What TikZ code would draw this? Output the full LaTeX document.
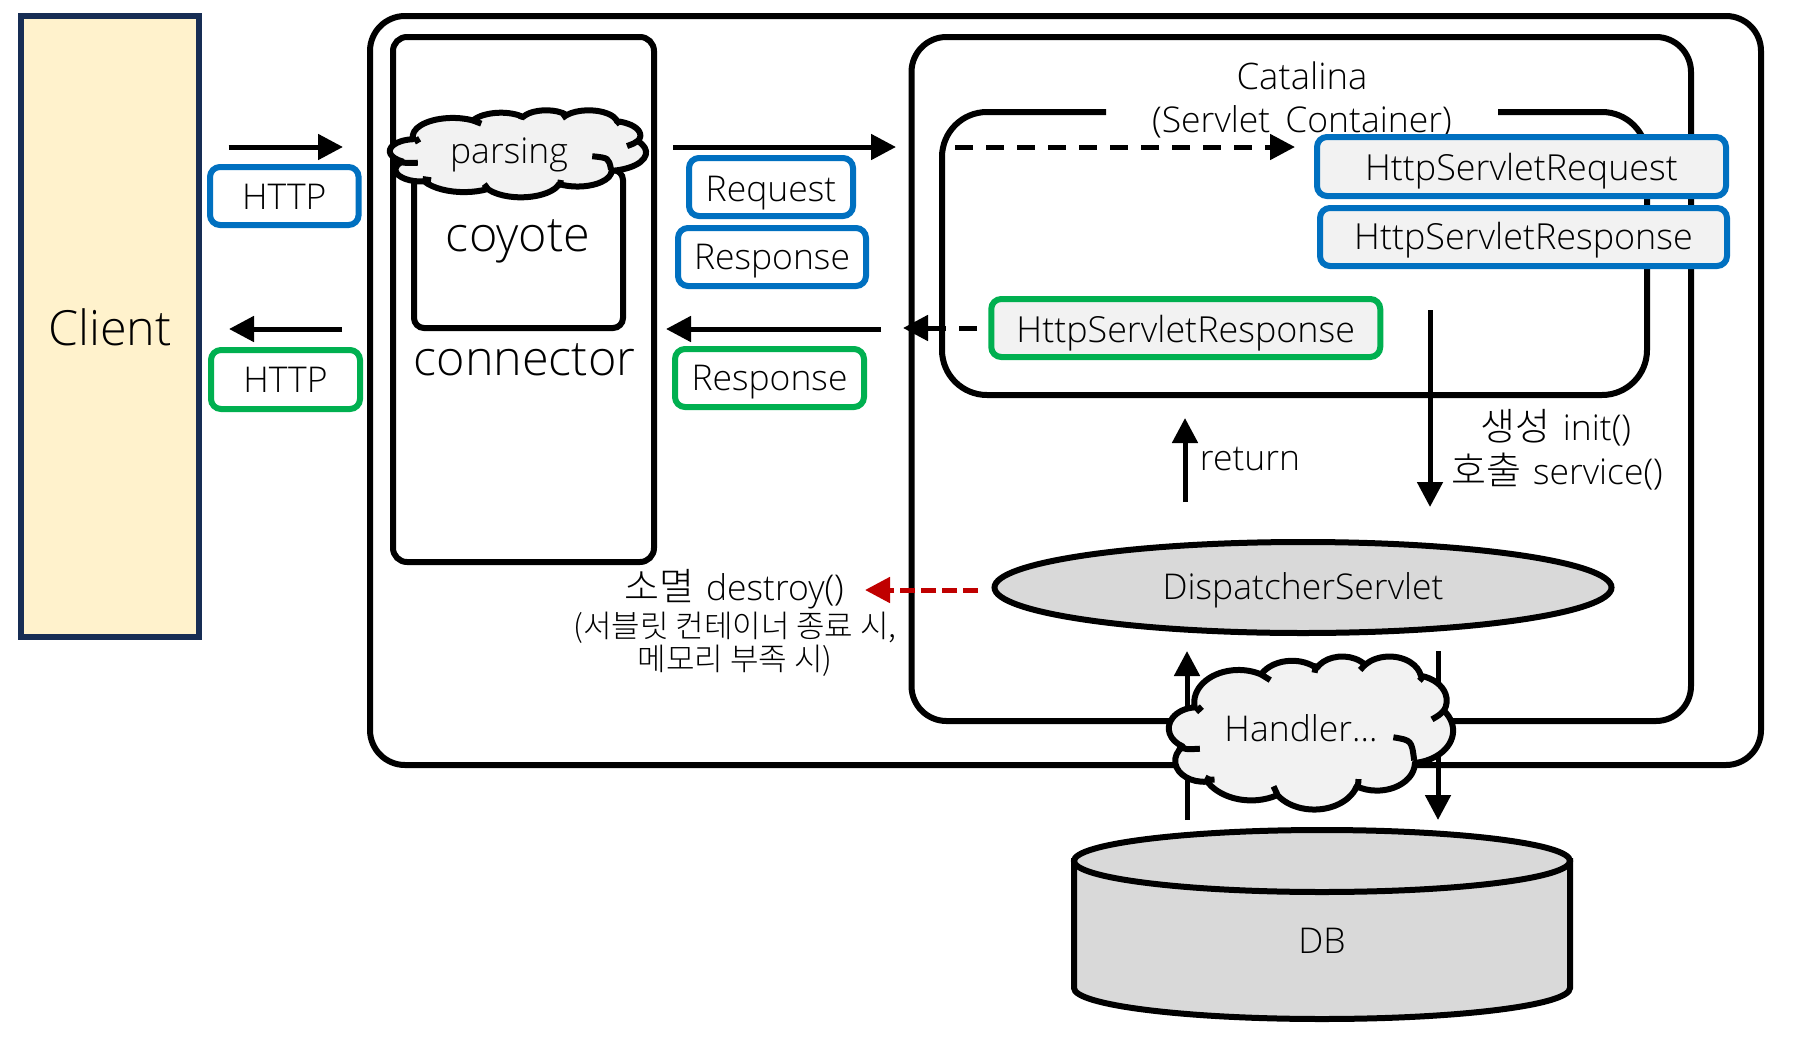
\documentclass[tikz,border=0pt]{standalone}
\usepackage{fontspec}
\setmainfont{Open Sans Light}
\newfontfamily\kr{Noto Sans CJK KR Light}
\usetikzlibrary{arrows.meta,shapes.geometric}
\definecolor{navy}{HTML}{172D54}
\definecolor{cream}{HTML}{FFF2CC}
\definecolor{blueb}{HTML}{0070C0}
\definecolor{greenb}{HTML}{00B050}
\definecolor{lightg}{HTML}{F2F2F2}
\definecolor{midg}{HTML}{D9D9D9}
\definecolor{darkr}{HTML}{C00000}
\newcommand\fL{\fontsize{48.5}{54}\selectfont}
\newcommand\fM{\fontsize{35.5}{40}\selectfont}
\newcommand\fW{\fontsize{35.9}{40}\selectfont}
\newcommand\fS{\fontsize{31}{33}\selectfont}
\newcommand\krM[1]{{\fontsize{38}{40}\selectfont\kr #1}\hspace*{12pt}}
% PowerPoint-style cloud outline
\def\cloudpath{}
\newcommand\addarc[4]{%
  \pgfmathsetmacro\tS{atan2(#1*sin(#3),#2*cos(#3))}%
  \pgfmathsetmacro\tE{atan2(#1*sin(#3+#4),#2*cos(#3+#4))}%
  \pgfmathsetmacro\tD{\tE-\tS}%
  \pgfmathsetmacro\tD{\tD<0?\tD+360:\tD}%
  \xdef\cloudpath{\cloudpath arc[x radius=#1,y radius=#2,start angle=\tS,delta angle=\tD]}%
}
\addarc{67.53}{91.90}{-190.4875}{123.7805}
\addarc{53.33}{72.67}{-144.1024}{89.9452}
\addarc{43.65}{59.45}{-145.8079}{99.7230}
\addarc{48.57}{65.95}{-130.9861}{117.2417}
\addarc{53.33}{72.73}{-78.7089}{109.0269}
\addarc{67.75}{92.20}{-46.2673}{130.2690}
\addarc{57.85}{78.67}{0.6250}{114.0333}
\addarc{67.52}{92.15}{22.4516}{115.1726}
\addarc{77.20}{105.43}{66.2426}{75.7110}
\addarc{43.60}{59.18}{-274.9421}{146.7356}
\addarc{43.45}{59.45}{-246.8285}{152.5189}
\newcommand\drawcloud[4]{%
  \pgfmathsetmacro\kx{#3/432}\pgfmathsetmacro\ky{#4/432}%
  \begin{scope}[shift={(#1,#2)},x=\kx pt,y=-\ky pt]
    \draw[cloudline,fill=lightg] (39,143.7) \cloudpath -- cycle;
    \draw[cloudline] (46.93,261.77) .. controls (26,264) .. (13,255);
    \draw[cloudline] (69.28,348.99) .. controls (62,350) .. (55,343);
    \draw[cloudline] (164.78,390.9) .. controls (161,380) .. (159,368);
    \draw[cloudline] (288.27,347.51) .. controls (288,362) .. (283,378);
    \draw[cloudline] (341.29,229.54) .. controls (369,238) .. (373,295);
    \draw[cloudline] (417.98,153.54) .. controls (412,166) .. (400,179);
    \draw[cloudline] (383.24,54.26) .. controls (385,62) .. (381,70);
    \draw[cloudline] (290.78,39.52) .. controls (293,32) .. (298,25);
    \draw[cloudline] (221.41,47.20) .. controls (222,34) .. (224,21);
    \draw[cloudline] (140,51.92) .. controls (146,60) .. (154,68);
    \draw[cloudline] (41.27,157.89) .. controls (45,150) .. (50,143);
  \end{scope}}
\tikzset{
  every node/.style={inner sep=0pt,outer sep=0pt},
  heavy/.style={draw=black,line width=6pt},
  cloudline/.style={draw=black,line width=6pt,line join=round},
  frame/.style={heavy,rectangle,rounded corners=#1},
  labelbox/.style={rectangle,line width=6pt,rounded corners=10pt,font=\fM,text height=24pt,text depth=0pt},
  bluebox/.style={labelbox,draw=blueb,fill=white},
  greenbox/.style={labelbox,draw=greenb,fill=white},
  txt/.style={font=\fM,align=center,text height=24pt,text depth=0pt},
  thickarrow/.style={line width=5pt,-{Triangle[length=25pt,width=25pt]}},
  thinarrow/.style={line width=5pt,-{Triangle[length=25pt,width=25pt]}},
  dashline/.style={dash pattern=on 18pt off 13pt},
}
\begin{document}
\begin{tikzpicture}[x=1pt,y=-1pt]
\useasboundingbox (0,0) rectangle (1805,1039);

% containers
\node[rectangle,draw=navy,line width=6pt,fill=cream,minimum width=178,minimum height=621,font=\fL,text height=38pt,text depth=0pt] (client) at (110,326.5) {Client};
\node[frame=35pt,minimum width=1391,minimum height=749] (server) at (1065.5,390.5) {};
\node[frame=14pt,minimum width=261,minimum height=525] (connectorbox) at (523.5,299.5) {};
\node[frame=10pt,minimum width=209,minimum height=158] (coyotebox) at (518.5,249) {};
\node[font=\fL] (coyotelabel) at (518,241.5) {coyote};
\node[font=\fL] (connectorlabel) at (524.5,360) {connector};
\drawcloud{390}{110}{256}{87}
\node[txt] (parsing) at (509,151) {parsing};
\node[frame=35pt,minimum width=779.5,minimum height=684] (catalina) at (1301.25,379) {};
\draw[heavy] (1106,112) -- (987,112) arc[radius=45,start angle=270,delta angle=-90]
  -- (942,350) arc[radius=45,start angle=180,delta angle=-90]
  -- (1602,395) arc[radius=45,start angle=90,delta angle=-90]
  -- (1647,157) arc[radius=45,start angle=0,delta angle=-90] -- (1498,112);
\node[txt] (catalinalabel) at (1302,77) {\fontsize{36.5}{40}\selectfont Catalina};
\node[txt] (containerlabel) at (1302,120.5) {(Servlet\hspace*{6pt} Container)};

% free arrow ends
\coordinate (a1s) at (228.5,147); \coordinate (a1e) at (343,147);
\coordinate (a2s) at (342,329); \coordinate (a2e) at (229,329);
\coordinate (a3s) at (673,147); \coordinate (a3e) at (896,147);
\coordinate (a4s) at (881,329); \coordinate (a4e) at (666,329);
\coordinate (a5s) at (955,147); \coordinate (a5e) at (1295,147);
\coordinate (a6s) at (977,328); \coordinate (a6e) at (903,328);
\coordinate (a7s) at (1430,310); \coordinate (a7e) at (1430,507);
\coordinate (a8s) at (1185,502); \coordinate (a8e) at (1185,418);
\coordinate (a9s) at (978,590); \coordinate (a9e) at (865,590);
\coordinate (a10s) at (1187,820); \coordinate (a10e) at (1187,651);
\coordinate (a11s) at (1438,651); \coordinate (a11e) at (1438,820);

% arrows
\draw[thickarrow] (a1s) -- (a1e);
\draw[thickarrow] (a2s) -- (a2e);
\draw[thickarrow] (a3s) -- (a3e);
\draw[thickarrow] (a4s) -- (a4e);
\draw[thickarrow,dashline] (a5s) -- (a5e);
\draw[thickarrow,dashline] (a6s) -- (a6e);
\draw[thinarrow] (a7s) -- (a7e);
\draw[thinarrow] (a8s) -- (a8e);
\draw[thickarrow,darkr,dash pattern=on 15pt off 6pt] (a9s) -- (a9e);
\draw[thinarrow] (a10s) -- (a10e);
\draw[thinarrow] (a11s) -- (a11e);

% labelled boxes
\node[bluebox,text height=26.5pt,minimum width=148.6,minimum height=58] (http1) at (284.3,196) {HTTP};
\node[greenbox,text height=25pt,minimum width=149,minimum height=59] (http2) at (285.5,379.5) {HTTP};
\node[bluebox,text height=28pt,minimum width=164,minimum height=58] (request) at (771,187) {Request};
\node[bluebox,text height=24pt,minimum width=188,minimum height=58] (response1) at (772,257) {Response};
\node[greenbox,text height=25pt,minimum width=189,minimum height=58] (response2) at (769.5,378) {Response};
\node[bluebox,fill=lightg,font=\fW,text height=27pt,minimum width=409,minimum height=59] (hreq) at (1521.5,166.5) {HttpServletRequest};
\node[bluebox,fill=lightg,font=\fW,text height=24pt,minimum width=407,minimum height=58] (hres1) at (1523.5,237) {HttpServletResponse};
\node[greenbox,fill=lightg,font=\fW,text height=28pt,minimum width=389,minimum height=58] (hres2) at (1185.75,328) {HttpServletResponse};

% texts
\node[txt] (ret) at (1250,458) {return};
\node[txt] (init) at (1556,428.5) {\krM{생성}init()};
\node[txt] (service) at (1557,472) {\krM{호출}service()};
\node[txt] (destroy) at (734,588) {\krM{소멸}destroy()};
\node[font=\fS,align=center] (reason) at (735,644) {\kr (서블릿 컨테이너 종료 시,\\\kr 메모리 부족 시)};

% dispatcher
\node[ellipse,draw=black,line width=6pt,fill=midg,minimum width=617,minimum height=91,font=\fM,text height=24pt,text depth=0pt] (dispatcher) at (1303,587.5) {DispatcherServlet};

% handler cloud
\drawcloud{1169}{656}{284}{153}
\node[txt] (handler) at (1301,729.7) {Handler...};

% database
\draw[heavy,fill=midg] (1074,861) -- (1074,988) arc[x radius=248,y radius=31,start angle=180,delta angle=-180] -- (1570,861) -- cycle;
\draw[heavy,fill=midg] (1322,861) ellipse[x radius=248,y radius=31];
\node[txt] (db) at (1322,941) {DB};
\end{tikzpicture}
\end{document}
